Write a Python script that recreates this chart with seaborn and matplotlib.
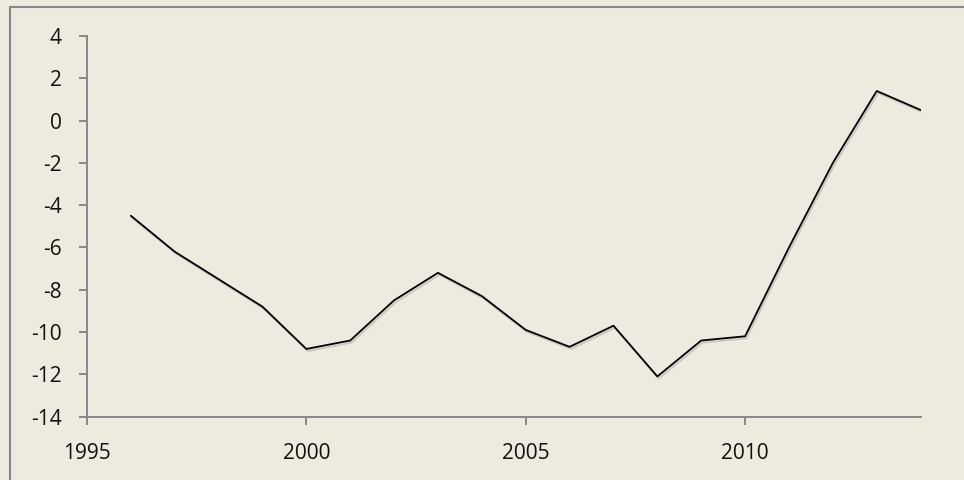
import matplotlib
matplotlib.use("Agg")
import matplotlib.pyplot as plt
import matplotlib.patheffects as pe
import seaborn as sns
import pandas as pd

years = [1996, 1997, 1998, 1999, 2000, 2001, 2002, 2003, 2004, 2005,
         2006, 2007, 2008, 2009, 2010, 2011, 2012, 2013, 2014]
values = [-4.5, -6.2, -7.5, -8.8, -10.8, -10.4, -8.5, -7.2, -8.3, -9.9,
          -10.7, -9.7, -12.1, -10.4, -10.2, -6.0, -2.0, 1.4, 0.5]
x_ticks = [1995, 2000, 2005, 2010]
y_ticks = list(range(-14, 5, 2))

df = pd.DataFrame({"year": years, "value": values})

bg = "#EDEAE0"
grey = "#878787"

sns.set_style("ticks")
plt.rcParams["font.family"] = ["Open Sans", "DejaVu Sans"]
plt.rcParams["axes.unicode_minus"] = False

fig = plt.figure(figsize=(9.64, 4.8), dpi=100, facecolor=bg)
ax = fig.add_axes([0.0902, 0.132, 0.955 - 0.0902, 0.925 - 0.132])
ax.set_facecolor(bg)

sns.lineplot(data=df, x="year", y="value", ax=ax, color="black", linewidth=1.3,
             path_effects=[pe.SimpleLineShadow(offset=(1, -1.5), alpha=0.15), pe.Normal()])

ax.set_xlim(1995, 2014)
ax.set_ylim(-14, 4)
ax.set_xticks(x_ticks)
ax.set_yticks(y_ticks)
ax.set_xlabel("")
ax.set_ylabel("")

for side in ["top", "right"]:
    ax.spines[side].set_visible(False)
for side in ["left", "bottom"]:
    ax.spines[side].set_color(grey)
    ax.spines[side].set_linewidth(1.4)
ax.tick_params(axis="both", colors=grey, width=1.4, length=6, labelsize=15,
               labelcolor="#111111")
ax.tick_params(axis="y", pad=12)
ax.tick_params(axis="x", pad=13)

# outer chart border (top and left edges visible)
fig.add_artist(plt.Line2D([10 / 964, 1.0], [1 - 7 / 480, 1 - 7 / 480],
                          transform=fig.transFigure, color=grey, linewidth=1.5))
fig.add_artist(plt.Line2D([10 / 964, 10 / 964], [0.0, 1 - 7 / 480],
                          transform=fig.transFigure, color=grey, linewidth=1.5))

fig.savefig("out.png", dpi=100, facecolor=bg)
